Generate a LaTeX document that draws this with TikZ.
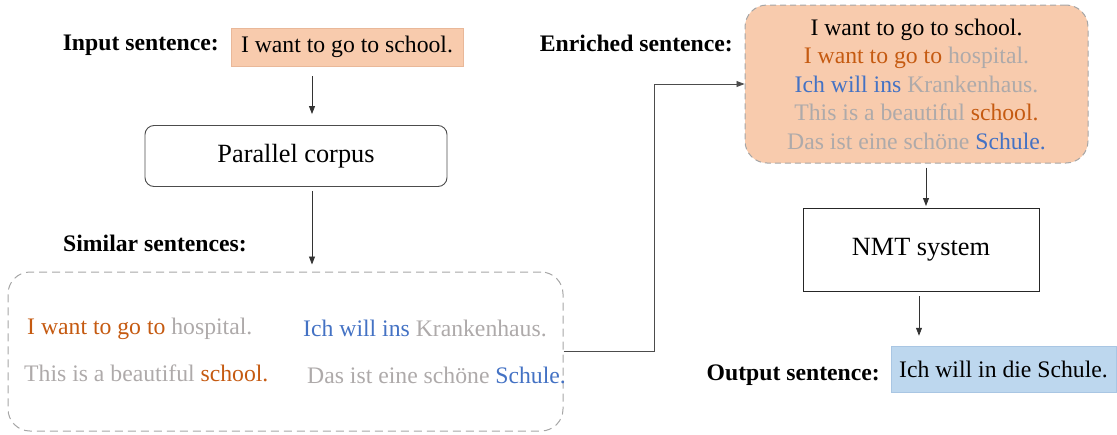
\documentclass[tikz,border=0pt]{standalone}
\usepackage{fontspec}
\setmainfont{Liberation Serif}
\usetikzlibrary{arrows.meta}
\definecolor{peach}{HTML}{F8CBAD}
\definecolor{peachedge}{HTML}{E9B899}
\definecolor{lblue}{HTML}{BDD7EE}
\definecolor{lblueedge}{HTML}{A9C6E3}
\definecolor{org}{HTML}{C55A11}
\definecolor{blu}{HTML}{4472C4}
\definecolor{gry}{HTML}{AEAAAA}
\definecolor{dashgray}{HTML}{A6A6A6}
\begin{document}
\begin{tikzpicture}[x=1pt,y=-1pt,
  font=\fontsize{23.7}{28}\selectfont,
  lbl/.style={font=\fontsize{23.7}{28}\selectfont\bfseries, anchor=east, inner sep=0pt},
  arr/.style={draw=black!80, line width=0.8pt, -{Triangle[length=8pt,width=6pt]}},
  txt/.style={anchor=west, inner sep=0pt},
  bigtxt/.style={font=\fontsize{26.3}{30}\selectfont},
]
\useasboundingbox (0,0) rectangle (1117,434);

% input
\node[lbl] (inlbl) at (219,45) {Input sentence:};
\node[fill=peach, draw=peachedge, line width=0.5pt, minimum width=232pt, minimum height=38pt, inner sep=0pt] (in) at (347,47) {I want to go to school.};

% parallel corpus
\node[draw=black!70, line width=0.9pt, rounded corners=9pt, minimum width=302pt, minimum height=61pt, inner sep=0pt, bigtxt] (pc) at (296,156) {Parallel corpus};

\coordinate (c1) at (312,0);
\draw[arr] ([yshift=-10pt]in.south -| c1) -- ([yshift=11pt]pc.north -| c1);

% similar sentences
\node[lbl] (simlbl) at (247,243) {Similar sentences:};
\node[draw=dashgray, dash pattern=on 8pt off 5pt, line width=1pt, rounded corners=22pt, minimum width=555pt, minimum height=159pt, inner sep=0pt] (sim) at (285.5,351.5) {};
\draw[arr] ([yshift=-4pt]pc.south -| c1) -- ([yshift=7pt]sim.north -| c1);

\node[txt] (s1) at (27,329) {\textcolor{org}{I want to go to} \textcolor{gry}{hospital.}};
\node[txt] (s2) at (24,373) {\textcolor{gry}{This is a beautiful} \textcolor{org}{school.}};
\node[txt] (s3) at (303,328) {\textcolor{blu}{Ich will ins} \textcolor{gry}{Krankenhaus.}};
\node[txt] (s4) at (307,375) {\textcolor{gry}{Das ist eine schöne} \textcolor{blu}{Schule.}};

% enriched
\node[lbl] (enrlbl) at (733,43) {Enriched sentence:};
\node[fill=peach, draw=dashgray, dash pattern=on 6pt off 4pt, line width=1pt, rounded corners=22pt, minimum width=343pt, minimum height=158pt, inner sep=0pt, align=center, font=\fontsize{23.7}{28.5}\selectfont] (enr) at (916.5,84)
{I want to go to school.\\
\textcolor{org}{I want to go to} \textcolor{gry}{hospital.}\\
\textcolor{blu}{Ich will ins} \textcolor{gry}{Krankenhaus.}\\
\textcolor{gry}{This is a beautiful} \textcolor{org}{school.}\\
\textcolor{gry}{Das ist eine schöne} \textcolor{blu}{Schule.}};

\coordinate (c2) at (654,0);
\draw[draw=black!70, line width=0.8pt, -{Triangle[length=8pt,width=6pt]}] (sim.east) -- (sim.east -| c2) -- (c2 |- enr.west) -- (enr.west);

% NMT
\node[draw=black!85, line width=1pt, minimum width=236pt, minimum height=83pt, inner sep=0pt, bigtxt] (nmt) at (921,250) {NMT system};
\coordinate (c3) at (926,0);
\draw[arr] ([yshift=-4pt]enr.south -| c3) -- ([yshift=2pt]nmt.north -| c3);

% output
\node[lbl] (outlbl) at (880,375) {Output sentence:};
\node[fill=lblue, draw=lblueedge, line width=0.5pt, minimum width=225pt, minimum height=46pt, inner sep=0pt] (out) at (1003.5,369) {Ich will in die Schule.};
\coordinate (c4) at (919,0);
\draw[arr] ([yshift=-4pt]nmt.south -| c4) -- ([yshift=10pt]out.north -| c4);
\end{tikzpicture}
\end{document}
